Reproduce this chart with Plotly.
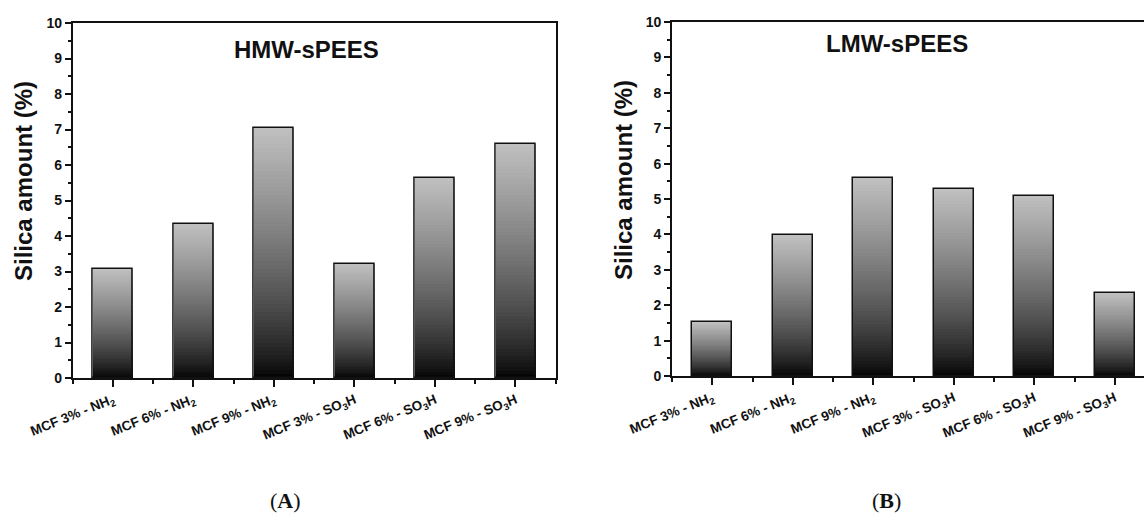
import plotly.graph_objects as go

# Silica content of the membranes for each MCF loading / functionalisation
categories = [
    "MCF 3% - NH<sub>2</sub>",
    "MCF 6% - NH<sub>2</sub>",
    "MCF 9% - NH<sub>2</sub>",
    "MCF 3% - SO<sub>3</sub>H",
    "MCF 6% - SO<sub>3</sub>H",
    "MCF 9% - SO<sub>3</sub>H",
]
hmw_silica = [3.08, 4.33, 7.03, 3.22, 5.63, 6.60]
lmw_silica = [1.53, 3.97, 5.58, 5.28, 5.09, 2.35]
y_ticks = list(range(0, 11))

W, H = 1144, 515
FONT = "Arial, Liberation Sans, sans-serif"
N_SLICES = 64
BAR_W = 0.5

positions = list(range(len(categories)))


def shade(f):
    """Grey level for a relative height f (0 = bar foot, 1 = bar top)."""
    g = int(round(192 * max(f, 0.0) ** 0.75))
    return f"rgb({g},{g},{g})"


def gradient_bars(values, xa, ya):
    traces = []
    # overlay progressively shorter, darker bars to build a vertical gradient
    for k in range(N_SLICES):
        frac = 1 - k / N_SLICES
        traces.append(go.Bar(
            x=positions, y=[v * frac for v in values], width=BAR_W,
            marker=dict(color=shade(frac - 0.5 / N_SLICES), line=dict(width=0)),
            xaxis=xa, yaxis=ya, showlegend=False, hoverinfo="skip",
        ))
    # outline
    traces.append(go.Bar(
        x=positions, y=values, width=BAR_W,
        marker=dict(color="rgba(0,0,0,0)", line=dict(color="#111111", width=1.5)),
        xaxis=xa, yaxis=ya, showlegend=False, hoverinfo="skip",
    ))
    return traces


fig = go.Figure()
for t in gradient_bars(hmw_silica, "x", "y"):
    fig.add_trace(t)
for t in gradient_bars(lmw_silica, "x2", "y2"):
    fig.add_trace(t)

tick_font = dict(family=FONT, size=14, color="#111111", weight="bold")
xtick_font = dict(family=FONT, size=13.5, color="#111111", weight="bold")


def xaxis_cfg(domain, rng):
    return dict(
        domain=domain, range=rng, tickmode="array", tickvals=positions,
        ticktext=categories, tickangle=-22, tickfont=xtick_font,
        ticks="outside", ticklen=7, tickwidth=1.5, tickcolor="#111111",
        minor=dict(tick0=0.5, dtick=1, ticks="outside", ticklen=4,
                   tickwidth=1.5, tickcolor="#111111"),
        showline=True, linewidth=1.7, linecolor="#111111", mirror=True,
        showgrid=False, zeroline=False, fixedrange=True, automargin=False,
    )


def yaxis_cfg(domain, anchor, mirror):
    return dict(
        domain=domain, anchor=anchor, range=[0, 10], tickmode="array",
        tickvals=y_ticks, ticktext=[str(v) for v in y_ticks], tickfont=tick_font,
        ticks="outside", ticklen=6, tickwidth=1.5, tickcolor="#111111",
        minor=dict(dtick=0.5, ticks="outside", ticklen=3, tickwidth=1.5,
                   tickcolor="#111111"),
        showline=True, linewidth=1.7, linecolor="#111111", mirror=mirror,
        showgrid=False, zeroline=False, fixedrange=True, automargin=False,
    )


left_x = [72.7 / W, 555.7 / W]
right_x = [672.0 / W, 1.0]
left_y = [1 - 378 / H, 1 - 23 / H]
right_y = [1 - 376 / H, 1 - 22 / H]

# right panel keeps the same category spacing as the left one and runs off the page edge
span = 6 * (right_x[1] - right_x[0]) / (left_x[1] - left_x[0])

fig.update_layout(
    template="none",
    width=W, height=H, margin=dict(l=0, r=0, t=0, b=0, pad=0, autoexpand=False),
    paper_bgcolor="white", plot_bgcolor="white", barmode="overlay",
    bargap=0, showlegend=False,
    xaxis=xaxis_cfg(left_x, [-0.5, 5.5]) | dict(anchor="y"),
    yaxis=yaxis_cfg(left_y, "x", True),
    xaxis2=xaxis_cfg(right_x, [-0.5, -0.5 + span]) | dict(anchor="y2"),
    yaxis2=yaxis_cfg(right_y, "x2", False),
)

title_font = dict(family=FONT, size=24, color="#111111", weight="bold")
ylab_font = dict(family=FONT, size=24, color="#111111", weight="bold")
cap_font = dict(family="Liberation Serif, DejaVu Serif, serif", size=22,
                color="#111111")

annotations = [
    dict(text="HMW-sPEES", x=306 / W, y=1 - 50 / H, font=title_font),
    dict(text="LMW-sPEES", x=897 / W, y=1 - 44 / H, font=title_font),
    dict(text="Silica amount (%)", x=24 / W, y=1 - 181 / H, font=ylab_font,
         textangle=-90),
    dict(text="Silica amount (%)", x=623 / W, y=1 - 180 / H, font=ylab_font,
         textangle=-90),
    dict(text="(<b>A</b>)", x=285 / W, y=1 - 500 / H, font=cap_font),
    dict(text="(<b>B</b>)", x=886 / W, y=1 - 500 / H, font=cap_font),
]
for a in annotations:
    a.update(xref="paper", yref="paper", showarrow=False,
             xanchor="center", yanchor="middle")
fig.update_layout(annotations=annotations)

fig.write_html("out.html")
